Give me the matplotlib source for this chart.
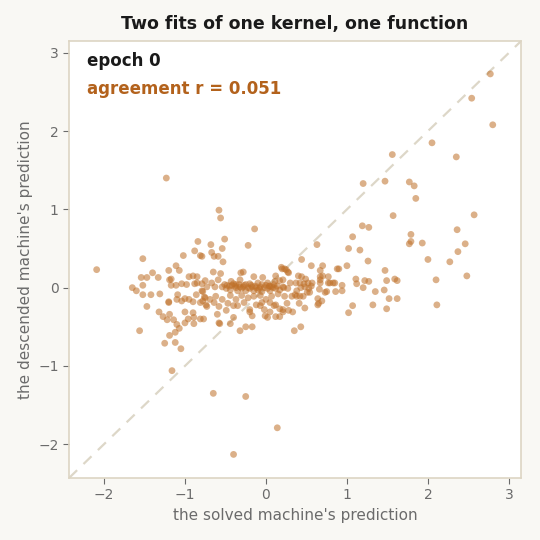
import matplotlib.pyplot as plt

# predictions of the two fits (x = solved, y = descended)
solved = [
    -2.09, -1.23, -0.84, -0.88, -0.81, -0.79, -1.02, -1.52, -1.11, -1.20,
    -1.07, -1.40, -1.54, -1.47, -1.33, -1.17, -0.95, -0.90, -0.85, -1.65,
    -1.60, -1.52, -1.52, -1.42, -1.31, -1.47, -1.20, -1.10, -1.09, -1.17,
    -1.11, -1.19, -1.04, -0.98, -0.85, -0.79, -0.88, -1.04, -1.00, -0.95,
    -0.90, -0.86, -0.79, -0.81, -0.78, -1.32, -1.27, -1.22, -1.19, -1.14,
    -1.10, -1.07, -1.12, -1.19, -1.25, -1.12, -1.05, -1.00, -1.00, -0.96,
    -0.90, -0.89, -0.89, -0.81, -0.77, -1.56, -1.16, -1.20,
    -0.58, -0.56, -0.14, -0.22, -0.51, -0.68, -0.54, -0.67, -0.64, -0.59,
    -0.53, -0.65, -0.56, -0.31, -0.28, -0.15, -0.04, 0.20, 0.25, 0.28,
    0.12, -0.75, -0.67, -0.59, -0.43, -0.32, -0.20, -0.10, 0.02, 0.11,
    0.17, -0.73, -0.63, -0.51,
    -0.54, -0.48, -0.42, -0.37, -0.32, -0.27, -0.22, -0.17, -0.12, -0.07,
    -0.02, 0.02, 0.07, 0.12, 0.17, 0.22, 0.27, -0.44, -0.35, -0.25,
    -0.15, -0.05, 0.05, -0.40, -0.30, -0.20, -0.10, 0.00, -0.49, -0.37,
    -0.25, -0.05, 0.10,
    -0.45, -0.38, -0.33, -0.28, -0.18, -0.13, -0.08, 0.04, 0.09, 0.14,
    -0.78, -0.75, -0.69, -0.74, -0.62, -0.54, -0.44, -0.37, -0.47, -0.30,
    -0.22, -0.15, -0.07, 0.00, 0.07, 0.15, 0.05, 0.12, -0.05, -0.12,
    -0.27, -0.35, -0.20, -0.49, -0.02, 0.02, -0.17, 0.17, 0.21, 0.12,
    -0.58, -0.40, -0.32, -0.25, -0.17, -0.64, -0.73, -0.58, -0.40, -0.60,
    -0.57, -0.44, -0.65, -0.25, -0.40, 0.14, -0.20, -0.07, -0.01, 0.05,
    0.10, 0.17, 0.21, 0.28, 0.33, 0.35, 0.43, 0.48, 0.41, 0.26,
    0.19, 0.23, 0.27, 0.40, 0.44, 0.49, 0.67, 0.67, 0.70, 0.77,
    0.21, 0.21, 0.30, 0.37, 0.42, 0.47, 0.52, 0.57, 0.77, 0.79,
    0.83, 0.85, 0.67, 1.11, 1.12, 1.22, 1.27, 1.49, 1.59, 1.62,
    0.43, 0.48, 0.53, 0.51, 0.54, 0.38, 0.36, 0.32, 0.38, 0.73,
    0.75, 0.86, 0.94, 1.20, 1.35, 1.46, 0.23, 0.42, 0.46, 0.64,
    0.69, 0.65, 1.52, 1.62, 1.07, 1.32, 1.49, 1.02, 2.11, 0.64,
    0.63, 1.02, 1.16, 1.26, 0.44, 0.56, 0.70, 1.00, 0.88, 0.90,
    0.67, 1.47, 1.07, 1.19, 1.27, 1.20, 1.47, 1.56, 1.57, 1.77,
    1.83, 1.85, 2.05, 2.35, 2.57, 2.36, 1.79, 1.77, 1.79, 1.93,
    2.46, 2.37, 2.00, 2.27, 2.48, 2.10, 2.77, 2.54, 2.80,
    -0.76, 0.05, 0.56, 0.66, 0.94,
]
descended = [
    0.23, 1.40, 0.59, 0.47, 0.41, 0.40, 0.41, 0.37, 0.28, 0.22,
    0.22, 0.19, 0.13, 0.13, 0.13, 0.11, 0.14, 0.15, 0.14, 0.00,
    -0.04, 0.03, -0.09, -0.09, -0.08, -0.24, -0.18, -0.15, -0.09, 0.03,
    0.03, 0.10, 0.05, 0.04, 0.06, 0.05, 0.05, -0.17, -0.14, -0.15,
    -0.18, -0.09, -0.04, -0.19, -0.17, -0.31, -0.37, -0.41, -0.34, -0.41,
    -0.47, -0.52, -0.57, -0.61, -0.71, -0.70, -0.78, -0.31, -0.45, -0.40,
    -0.32, -0.38, -0.46, -0.40, -0.40, -0.55, -1.06, -0.19,
    0.99, 0.89, 0.75, 0.54, 0.62, 0.55, 0.50, 0.45, 0.40, 0.40,
    0.33, 0.20, 0.18, 0.19, 0.20, 0.14, 0.13, 0.24, 0.23, 0.19,
    0.15, 0.09, 0.06, 0.10, 0.08, 0.10, 0.05, 0.06, 0.06, 0.08,
    0.09, 0.01, 0.01, 0.04,
    0.01, 0.03, 0.03, 0.00, 0.01, 0.03, 0.00, 0.01, 0.00, 0.01,
    0.00, -0.01, 0.01, -0.01, -0.03, 0.00, -0.01, -0.03, -0.04, -0.04,
    -0.04, -0.05, -0.04, 0.05, -0.01, -0.01, -0.03, 0.03, -0.01, 0.04,
    0.04, 0.04, 0.04,
    0.02, 0.02, 0.04, 0.01, 0.03, 0.02, -0.01, 0.02, 0.00, 0.02,
    -0.05, -0.13, -0.15, -0.22, -0.11, -0.15, -0.10, -0.15, -0.20, -0.10,
    -0.13, -0.11, -0.10, -0.15, -0.11, -0.08, -0.19, -0.22, -0.19, -0.22,
    -0.19, -0.23, -0.28, -0.29, -0.28, -0.38, -0.36, -0.27, -0.31, -0.37,
    -0.45, -0.38, -0.55, -0.50, -0.50, -0.19, -0.24, -0.24, -0.23, -0.34,
    -0.46, -0.46, -1.35, -1.39, -2.13, -1.79, -0.31, -0.23, -0.36, -0.31,
    -0.23, -0.37, -0.28, -0.29, -0.31, -0.55, -0.50, -0.26, -0.20, -0.20,
    0.26, 0.24, 0.20, 0.15, 0.14, 0.11, 0.14, 0.10, 0.15, 0.14,
    0.10, 0.01, 0.06, 0.06, 0.06, 0.05, 0.06, 0.06, 0.06, 0.06,
    0.06, 0.06, 0.06, 0.11, 0.05, 0.09, 0.08, 0.09, 0.11, 0.09,
    0.00, 0.01, -0.01, -0.06, -0.06, -0.04, -0.09, -0.11, -0.11, -0.06,
    -0.05, -0.05, -0.04, 0.00, -0.05, -0.03, -0.11, -0.11, -0.11, -0.14,
    -0.17, -0.20, -0.14, -0.14, -0.23, -0.22, -0.27, -0.32, -0.22, -0.22,
    0.55, 0.50, 0.48, 0.34, 0.36, 0.28, 0.28, 0.28, 0.24, 0.24,
    0.22, 0.22, 0.65, 0.79, 0.77, 1.33, 1.36, 1.70, 0.92, 1.35,
    1.30, 1.14, 1.85, 1.67, 0.93, 0.74, 0.68, 0.56, 0.59, 0.57,
    0.56, 0.46, 0.36, 0.33, 0.15, 0.10, 2.73, 2.42, 2.08,
    -0.12, 0.02, 0.02, -0.02, 0.03,
]

title = "Two fits of one kernel, one function"
epoch_label = "epoch 0"
agreement_label = "agreement r = 0.051"
lims = (-2.43, 3.15)

fig = plt.figure(figsize=(5.4, 5.4), dpi=100, facecolor='#f9f8f4')
ax = fig.add_axes([0.128, 0.115, 0.837, 0.809])
ax.set_facecolor('white')

# diagonal y = x
ax.plot(lims, lims, linestyle=(0, (5, 4)), color='#ddd7c8', lw=1.6, zorder=1)

ax.scatter(solved, descended, s=24, color='#bf7028', alpha=0.55,
           edgecolors='none', zorder=2)

ax.set_xlim(lims)
ax.set_ylim(lims)
ax.set_xticks([-2, -1, 0, 1, 2, 3])
ax.set_yticks([-2, -1, 0, 1, 2, 3])

for sp in ax.spines.values():
    sp.set_color('#ddd5c3')
    sp.set_linewidth(1.2)
ax.tick_params(colors='#6b6b6b', labelsize=10, length=4, color='#6b6b6b')

ax.set_xlabel("the solved machine's prediction", color='#6b6b6b', fontsize=11)
ax.set_ylabel("the descended machine's prediction", color='#6b6b6b', fontsize=11)
ax.set_title(title, fontsize=12.5, fontweight='bold', color='#1a1a1a', pad=9)

ax.text(0.04, 0.975, epoch_label, transform=ax.transAxes, fontsize=12,
        fontweight='bold', color='#1a1a1a', va='top')
ax.text(0.04, 0.91, agreement_label, transform=ax.transAxes, fontsize=12,
        fontweight='bold', color='#b3621c', va='top')

fig.savefig('out.png', dpi=100, facecolor=fig.get_facecolor())
